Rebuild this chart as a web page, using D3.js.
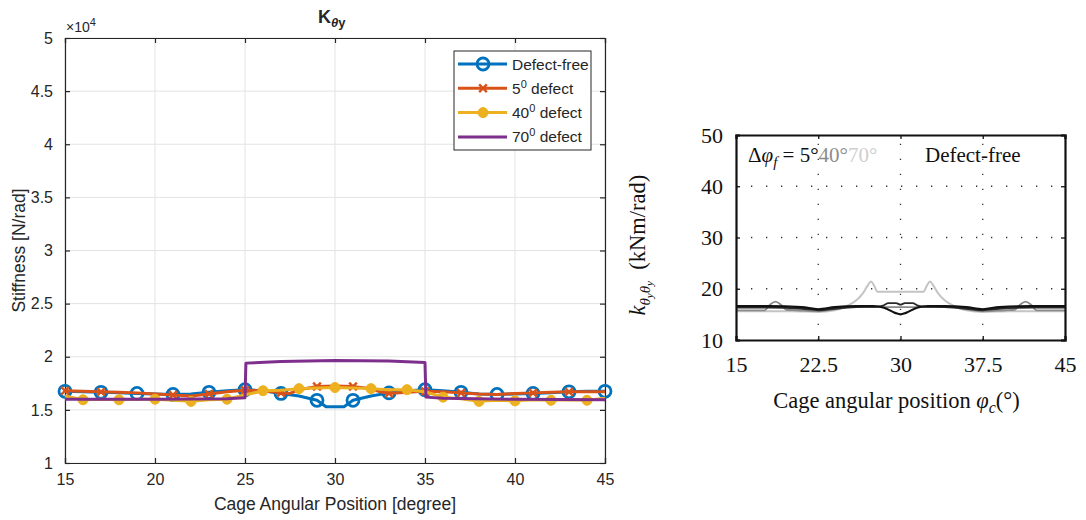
<!DOCTYPE html>
<html>
<head>
<meta charset="utf-8">
<script src="https://cdn.jsdelivr.net/npm/d3@7"></script>
<style>
  body { margin: 0; background: #fff; }
  .lft text { font-family: "Liberation Sans", Arial, sans-serif; fill: #262626; }
  .rgt text { font-family: "Liberation Serif", "Times New Roman", serif; fill: #111; }
</style>
</head>
<body>
<div id="chart"></div>
<script>
// ---------- left panel data (N/rad) ----------
var leftTicksX = [15, 20, 25, 30, 35, 40, 45];
var leftTicksY = [10000, 15000, 20000, 25000, 30000, 35000, 40000, 45000, 50000];

var freeAngle = [15,16,17,18,19,20,21,22,23,24,25,26,27,28,29,29.5,30.5,31,32,33,34,35,36,37,38,39,40,41,42,43,44,45];
var freeStiff = [16750,16700,16650,16600,16550,16500,16450,16500,16650,16800,16900,16800,16550,16300,15900,15300,15300,15900,16300,16600,16800,16900,16800,16650,16500,16450,16500,16550,16600,16700,16750,16750];
var freeMarks = [15,17,19,21,23,25,27,29,31,33,35,37,39,41,43,45];

var d5Angle = [15,16,17,18,19,20,21,22,23,24,25,26,27,27.5,28,29,30,31,32,32.5,33,34,35,36,37,38,39,40,41,42,43,44,45];
var d5Stiff = [16800,16750,16700,16650,16600,16500,16400,16300,16500,16700,16850,16800,16600,16550,16900,17200,17250,17200,17000,16700,16550,16650,16750,16700,16600,16500,16450,16550,16600,16650,16700,16700,16700];
var d5Marks = [15,17,21,23,25,27,29,31,33,35,37,41,43];

var d40Angle = [15,16,17,18,19,20,21,22,23,24,25,26,27,28,29,30,31,32,33,34,35,36,37,38,39,40,41,42,43,44,45];
var d40Stiff = [16300,15950,16000,15950,16000,16000,15900,15800,15950,16000,16400,16800,16850,17000,17050,17100,17050,17000,16900,16900,16700,16200,16050,15800,15900,15850,15950,15900,15950,15900,16100];
var d40Marks = [16,18,20,22,24,26,28,30,32,34,36,38,40,42,44];

var d70Angle = [15,20,24,25,25.05,27,30,33,35,35.05,36,40,45];
var d70Stiff = [16000,16000,16050,16150,19400,19550,19650,19600,19450,16200,16100,16000,15950];

// ---------- right panel data (kNm/rad) ----------
var rightTicksX = [15, 22.5, 30, 37.5, 45];
var rightTicksY = [10, 20, 30, 40, 50];

var rFreeAngle = [15,18,21,22.5,24,26,27.5,28.5,29.5,30,30.5,31.5,32.5,34,36,37.5,39,42,45];
var rFreeStiff = [16.6,16.6,16.4,16.0,16.4,16.6,16.6,16.3,15.3,15.0,15.3,16.3,16.6,16.6,16.4,16.0,16.4,16.6,16.6];

var r5Angle = [15,18,21,22.5,24,26,27.8,28.4,28.9,29.6,30,30.4,31.1,31.6,32.2,34,36,37.5,39,42,45];
var r5Stiff = [16.3,16.3,16.1,15.8,16.1,16.4,16.5,16.7,17.2,17.2,16.9,17.2,17.2,16.7,16.5,16.4,16.1,15.8,16.1,16.3,16.3];

var r40Angle = [15,17.6,18.1,18.6,19.1,19.6,20.5,22.5,24,26,28,30,32,34,36,37.5,39.5,40.4,40.9,41.4,41.9,42.4,45];
var r40Stiff = [15.8,15.8,16.9,17.5,16.9,15.9,15.8,15.6,16.0,16.5,16.4,16.4,16.4,16.5,16.0,15.6,15.8,15.9,16.9,17.5,16.9,15.8,15.8];

var r70Angle = [15,20,22.5,24,25,26,26.6,27,27.3,27.6,27.9,30,32.1,32.4,32.7,33,33.4,34,35,36,37.5,40,45];
var r70Stiff = [15.6,15.6,15.5,15.8,16.5,17.8,19.2,20.6,21.4,20.6,19.4,19.4,19.4,20.6,21.4,20.6,19.2,17.8,16.5,15.8,15.5,15.6,15.6];

var svgWidth = 1086;
var svgHeight = 520;

var svg = d3.select("#chart")
    .append("svg")
    .attr("width", svgWidth)
    .attr("height", svgHeight);

function zip(a, b) {
    return a.map((v, i) => ({ x: v, y: b[i] }));
}

// =============== LEFT PANEL (matlab style) ===============
var lg = svg.append("g").attr("class", "lft");
var x1 = d3.scaleLinear().domain([15, 45]).range([65, 605]);
var y1 = d3.scaleLinear().domain([10000, 50000]).range([463, 38]);

// grid
lg.append("g")
    .selectAll("line.gx").data(leftTicksX).enter().append("line")
    .attr("x1", d => x1(d)).attr("x2", d => x1(d))
    .attr("y1", y1(10000)).attr("y2", y1(50000))
    .attr("stroke", "#e3e3e3").attr("stroke-width", 1);
lg.append("g")
    .selectAll("line.gy").data(leftTicksY).enter().append("line")
    .attr("y1", d => y1(d)).attr("y2", d => y1(d))
    .attr("x1", x1(15)).attr("x2", x1(45))
    .attr("stroke", "#e3e3e3").attr("stroke-width", 1);

// axes, ticks pointing in
var bottomAxis = d3.axisBottom(x1).tickValues(leftTicksX).tickSize(-5).tickPadding(11).tickFormat(d3.format("d"));
var leftAxis = d3.axisLeft(y1).tickValues(leftTicksY).tickSize(-5).tickPadding(12).tickFormat(d => d3.format("")(d / 1e4));
var topAxis = d3.axisTop(x1).tickValues(leftTicksX).tickSize(-5).tickFormat("");
var rightAxis = d3.axisRight(y1).tickValues(leftTicksY).tickSize(-5).tickFormat("");

function styleAx(g) {
    g.selectAll("path, line").attr("stroke", "#262626").attr("stroke-width", 1.2);
    g.selectAll("text").attr("font-size", 16).attr("fill", "#262626");
}
lg.append("g").attr("transform", `translate(0, ${y1(10000)})`).call(bottomAxis).call(styleAx);
lg.append("g").attr("transform", `translate(${x1(15)}, 0)`).call(leftAxis).call(styleAx);
lg.append("g").attr("transform", `translate(0, ${y1(50000)})`).call(topAxis).call(styleAx);
lg.append("g").attr("transform", `translate(${x1(45)}, 0)`).call(rightAxis).call(styleAx);

// exponent
var ex = lg.append("text").attr("x", 66).attr("y", 32).attr("font-size", 14).attr("fill", "#262626");
ex.append("tspan").text("\u00d710");
ex.append("tspan").attr("dy", -6).attr("font-size", 11).text("4");

// title
var tt = lg.append("text").attr("x", 318).attr("y", 23).attr("font-size", 18).attr("font-weight", "bold");
tt.append("tspan").text("K");
tt.append("tspan").attr("dy", 4).attr("font-size", 13).attr("font-style", "italic").text("\u03b8");
tt.append("tspan").attr("font-size", 13).text("y");

// axis labels
lg.append("text")
    .attr("transform", `translate(25, ${y1(30000)}) rotate(-90)`)
    .attr("text-anchor", "middle").attr("font-size", 17.5)
    .text("Stiffness [N/rad]");
lg.append("text")
    .attr("x", x1(30)).attr("y", 510)
    .attr("text-anchor", "middle").attr("font-size", 17.5)
    .text("Cage Angular Position [degree]");

var line1 = d3.line().x(d => x1(d.x)).y(d => y1(d.y));

var leftSeries = [
    { name: "Defect-free", sup: "", color: "#0072BD", pts: zip(freeAngle, freeStiff), marks: freeMarks, marker: "o" },
    { name: "5", sup: "0", color: "#D95319", pts: zip(d5Angle, d5Stiff), marks: d5Marks, marker: "x" },
    { name: "40", sup: "0", color: "#EDB120", pts: zip(d40Angle, d40Stiff), marks: d40Marks, marker: "dot" },
    { name: "70", sup: "0", color: "#7E2F8E", pts: zip(d70Angle, d70Stiff), marks: [], marker: "" }
];

function drawMarker(g, type, color, cx, cy) {
    if (type === "o") {
        g.append("circle").attr("cx", cx).attr("cy", cy).attr("r", 6)
            .attr("fill", "none").attr("stroke", color).attr("stroke-width", 2.8);
    } else if (type === "dot") {
        g.append("circle").attr("cx", cx).attr("cy", cy).attr("r", 5)
            .attr("fill", color).attr("stroke", color).attr("stroke-width", 1);
    } else if (type === "x") {
        g.append("path").attr("d", d3.symbol().type(d3.symbolTimes).size(40)())
            .attr("transform", `translate(${cx},${cy})`)
            .attr("fill", "none").attr("stroke", color).attr("stroke-width", 2.4);
    }
}

leftSeries.forEach(function(s) {
    var g = lg.append("g");
    g.append("path").datum(s.pts)
        .attr("d", line1)
        .attr("fill", "none").attr("stroke", s.color)
        .attr("stroke-width", 3).attr("stroke-linejoin", "round");
    s.pts.filter(p => s.marks.indexOf(p.x) >= 0).forEach(function(p) {
        drawMarker(g, s.marker, s.color, x1(p.x), y1(p.y));
    });
});

// legend
var leg = lg.append("g").attr("transform", "translate(454, 51)");
leg.append("rect").attr("width", 137).attr("height", 99)
    .attr("fill", "#fff").attr("stroke", "#262626").attr("stroke-width", 1);
leftSeries.forEach(function(s, i) {
    var yy = 13 + i * 24.3;
    leg.append("line").attr("x1", 4).attr("x2", 53).attr("y1", yy).attr("y2", yy)
        .attr("stroke", s.color).attr("stroke-width", 3);
    drawMarker(leg, s.marker, s.color, 29, yy);
    var t = leg.append("text").attr("x", 58).attr("y", yy + 5.5).attr("font-size", 15.5);
    if (s.sup) {
        t.append("tspan").text(s.name);
        t.append("tspan").attr("dy", -6).attr("font-size", 11).text(s.sup);
        t.append("tspan").attr("dy", 6).text(" defect");
    } else {
        t.text(s.name);
    }
});

// =============== RIGHT PANEL (paper figure) ===============
var rg = svg.append("g").attr("class", "rgt");
var x2 = d3.scaleLinear().domain([15, 45]).range([736, 1065]);
var y2 = d3.scaleLinear().domain([10, 50]).range([340, 135]);

// dotted grid on inner ticks
rg.append("g").selectAll("line").data(rightTicksX.slice(1, -1)).enter().append("line")
    .attr("x1", d => x2(d)).attr("x2", d => x2(d))
    .attr("y1", y2(10)).attr("y2", y2(50))
    .attr("stroke", "#333").attr("stroke-width", 1.3).attr("stroke-dasharray", "1.3 13.7");
rg.append("g").selectAll("line").data(rightTicksY.slice(1, -1)).enter().append("line")
    .attr("y1", d => y2(d)).attr("y2", d => y2(d))
    .attr("x1", x2(15)).attr("x2", x2(45))
    .attr("stroke", "#333").attr("stroke-width", 1.3).attr("stroke-dasharray", "1.3 13.7");

var line2 = d3.line().x(d => x2(d.x)).y(d => y2(d.y)).curve(d3.curveMonotoneX);

var rightSeries = [
    { color: "#c4c4c4", w: 2, pts: zip(r70Angle, r70Stiff) },
    { color: "#8a8a8a", w: 1.8, pts: zip(r40Angle, r40Stiff) },
    { color: "#2a2a2a", w: 1.8, pts: zip(r5Angle, r5Stiff) },
    { color: "#111", w: 2.2, pts: zip(rFreeAngle, rFreeStiff) }
];
rightSeries.forEach(function(s) {
    rg.append("path").datum(s.pts).attr("d", line2)
        .attr("fill", "none").attr("stroke", s.color).attr("stroke-width", s.w);
});

// frame + ticks
var bAx2 = d3.axisBottom(x2).tickValues(rightTicksX).tickSize(-4).tickPadding(16).tickFormat(d => d);
var lAx2 = d3.axisLeft(y2).tickValues(rightTicksY).tickSize(-4).tickPadding(13);
var tAx2 = d3.axisTop(x2).tickValues(rightTicksX).tickSize(-4).tickFormat("");
var rAx2 = d3.axisRight(y2).tickValues(rightTicksY).tickSize(-4).tickFormat("");
function styleAx2(g) {
    g.selectAll("path").attr("stroke", "#111").attr("stroke-width", 2.2);
    g.selectAll("line").attr("stroke", "#111").attr("stroke-width", 1.3);
    g.selectAll("text").attr("font-size", 22).attr("fill", "#1a1a1a")
        .attr("font-family", "'Liberation Serif', 'Times New Roman', serif");
}
rg.append("g").attr("transform", `translate(0, ${y2(10)})`).call(bAx2).call(styleAx2);
rg.append("g").attr("transform", `translate(${x2(15)}, 0)`).call(lAx2).call(styleAx2);
rg.append("g").attr("transform", `translate(0, ${y2(50)})`).call(tAx2).call(styleAx2);
rg.append("g").attr("transform", `translate(${x2(45)}, 0)`).call(rAx2).call(styleAx2);

// annotation inside axes
var an = rg.append("text").attr("x", 748).attr("y", 162).attr("font-size", 21);
an.append("tspan").text("\u0394");
an.append("tspan").attr("font-style", "italic").text("\u03c6");
an.append("tspan").attr("font-style", "italic").attr("font-size", 15).attr("dy", 5).text("f");
an.append("tspan").attr("dy", -5).text(" = 5\u00b0");
an.append("tspan").attr("fill", "#8c8c8c").text("40\u00b0");
an.append("tspan").attr("fill", "#cfcfcf").text("70\u00b0");
rg.append("text").attr("x", 925).attr("y", 162).attr("font-size", 21).text("Defect-free");

// axis labels
var xl = rg.append("text").attr("x", x2(30) - 4).attr("y", 408)
    .attr("text-anchor", "middle").attr("font-size", 22.5);
xl.append("tspan").text("Cage angular position ");
xl.append("tspan").attr("font-style", "italic").text("\u03c6");
xl.append("tspan").attr("font-style", "italic").attr("font-size", 16).attr("dy", 5).text("c");
xl.append("tspan").attr("dy", -5).text("(\u00b0)");

var yl = rg.append("text")
    .attr("transform", `translate(645, ${y2(28.5)}) rotate(-90)`)
    .attr("text-anchor", "middle").attr("font-size", 22.5);
yl.append("tspan").attr("font-style", "italic").text("k");
yl.append("tspan").attr("font-style", "italic").attr("font-size", 15).attr("dy", 5).text("\u03b8");
yl.append("tspan").attr("font-style", "italic").attr("font-size", 11).attr("dy", 3).text("y");
yl.append("tspan").attr("font-style", "italic").attr("font-size", 15).attr("dy", -3).text("\u03b8");
yl.append("tspan").attr("font-style", "italic").attr("font-size", 11).attr("dy", 3).text("y");
yl.append("tspan").attr("dy", -8).text("\u2002(kNm/rad)");
</script>
</body>
</html>
